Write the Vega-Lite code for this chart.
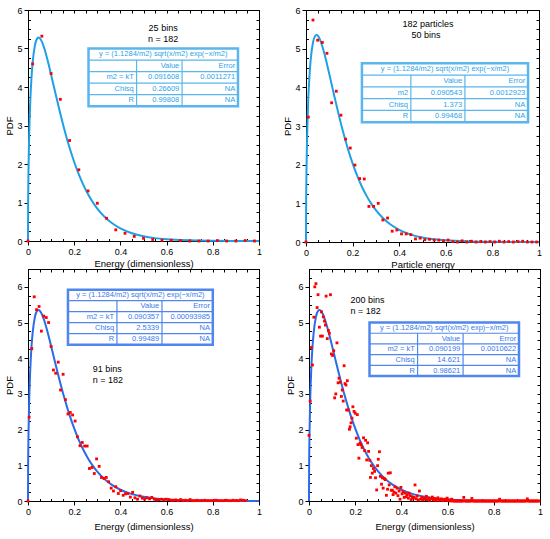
{
  "$schema": "https://vega.github.io/schema/vega-lite/v6.json",
  "background": "white",
  "padding": {"left": 4, "top": 5, "right": 5, "bottom": 5},
  "config": {
    "view": {"stroke": "#000", "strokeWidth": 1},
    "axis": {
      "grid": false,
      "labelFont": "Liberation Sans",
      "titleFont": "Liberation Sans",
      "labelFontSize": 9,
      "titleFontSize": 9.5,
      "titleFontWeight": "normal",
      "labelColor": "#000",
      "titleColor": "#000",
      "tickColor": "#000",
      "domainColor": "#000",
      "labelFlush": false,
      "labelOverlap": false
    },
    "text": {"font": "Liberation Sans"}
  },
  "datasets": {
    "p1": [
      {"x": 0, "y": 0}, {"x": 0.02, "y": 4.6}, {"x": 0.06, "y": 5.32}, {"x": 0.1, "y": 4.35},
      {"x": 0.14, "y": 3.68}, {"x": 0.18, "y": 2.61}, {"x": 0.22, "y": 1.85}, {"x": 0.26, "y": 1.3},
      {"x": 0.3, "y": 0.98}, {"x": 0.34, "y": 0.59}, {"x": 0.38, "y": 0.29}, {"x": 0.42, "y": 0.2},
      {"x": 0.46, "y": 0.12}, {"x": 0.5, "y": 0.07}, {"x": 0.54, "y": 0.04}, {"x": 0.58, "y": 0.02},
      {"x": 0.62, "y": 0.02}, {"x": 0.66, "y": 0.01}, {"x": 0.7, "y": 0}, {"x": 0.74, "y": 0},
      {"x": 0.78, "y": 0}, {"x": 0.82, "y": 0.01}, {"x": 0.86, "y": 0}, {"x": 0.9, "y": 0},
      {"x": 0.94, "y": 0.01}, {"x": 0.98, "y": 0}
    ],
    "p2": [
      {"x": 0, "y": 0}, {"x": 0.01, "y": 3.23}, {"x": 0.03, "y": 5.74}, {"x": 0.05, "y": 5.22},
      {"x": 0.07, "y": 5.16}, {"x": 0.09, "y": 4.88}, {"x": 0.11, "y": 3.6}, {"x": 0.13, "y": 3.9},
      {"x": 0.15, "y": 3.28}, {"x": 0.17, "y": 2.66}, {"x": 0.19, "y": 2.43}, {"x": 0.21, "y": 1.99},
      {"x": 0.23, "y": 1.64}, {"x": 0.25, "y": 1.63}, {"x": 0.27, "y": 0.92}, {"x": 0.29, "y": 0.92},
      {"x": 0.31, "y": 1.0}, {"x": 0.33, "y": 0.57}, {"x": 0.35, "y": 0.62}, {"x": 0.37, "y": 0.28},
      {"x": 0.39, "y": 0.31}, {"x": 0.41, "y": 0.21}, {"x": 0.43, "y": 0.21}, {"x": 0.45, "y": 0.19},
      {"x": 0.47, "y": 0.08}, {"x": 0.49, "y": 0.1}, {"x": 0.51, "y": 0.06}, {"x": 0.53, "y": 0.07},
      {"x": 0.55, "y": 0.05}, {"x": 0.57, "y": 0.05}, {"x": 0.59, "y": 0.03}, {"x": 0.61, "y": 0.05},
      {"x": 0.63, "y": 0.01}, {"x": 0.65, "y": 0}, {"x": 0.67, "y": 0.03}, {"x": 0.69, "y": 0},
      {"x": 0.71, "y": 0.02}, {"x": 0.73, "y": 0}, {"x": 0.75, "y": 0.01}, {"x": 0.77, "y": 0},
      {"x": 0.79, "y": 0.01}, {"x": 0.81, "y": 0}, {"x": 0.83, "y": 0.02}, {"x": 0.85, "y": 0},
      {"x": 0.87, "y": 0.01}, {"x": 0.89, "y": 0}, {"x": 0.91, "y": 0.01}, {"x": 0.93, "y": 0.02},
      {"x": 0.95, "y": 0}, {"x": 0.97, "y": 0}, {"x": 0.99, "y": 0}
    ],
    "p3": [
      {"x": 0, "y": 0}, {"x": 0.005, "y": 2.35}, {"x": 0.0165, "y": 4.27}, {"x": 0.027, "y": 5.72},
      {"x": 0.037, "y": 5.36}, {"x": 0.048, "y": 5.45}, {"x": 0.058, "y": 4.76}, {"x": 0.068, "y": 5.18},
      {"x": 0.079, "y": 5.14}, {"x": 0.089, "y": 5.0}, {"x": 0.1, "y": 4.33}, {"x": 0.11, "y": 3.67},
      {"x": 0.12, "y": 3.58}, {"x": 0.131, "y": 3.89}, {"x": 0.141, "y": 3.11}, {"x": 0.152, "y": 3.55},
      {"x": 0.162, "y": 2.84}, {"x": 0.173, "y": 2.44}, {"x": 0.183, "y": 2.48}, {"x": 0.193, "y": 2.41},
      {"x": 0.204, "y": 2.24}, {"x": 0.214, "y": 1.8}, {"x": 0.225, "y": 1.55}, {"x": 0.235, "y": 1.64},
      {"x": 0.245, "y": 1.54}, {"x": 0.256, "y": 1.54}, {"x": 0.266, "y": 0.91}, {"x": 0.277, "y": 0.94},
      {"x": 0.287, "y": 0.77}, {"x": 0.297, "y": 1.18}, {"x": 0.308, "y": 0.97}, {"x": 0.318, "y": 0.66},
      {"x": 0.329, "y": 0.63}, {"x": 0.339, "y": 0.66}, {"x": 0.349, "y": 0.54}, {"x": 0.36, "y": 0.36},
      {"x": 0.37, "y": 0.28}, {"x": 0.38, "y": 0.4}, {"x": 0.391, "y": 0.21}, {"x": 0.401, "y": 0.29},
      {"x": 0.412, "y": 0.16}, {"x": 0.422, "y": 0.2}, {"x": 0.432, "y": 0.21}, {"x": 0.443, "y": 0.11},
      {"x": 0.453, "y": 0.24}, {"x": 0.463, "y": 0.09}, {"x": 0.474, "y": 0.05}, {"x": 0.484, "y": 0.14},
      {"x": 0.495, "y": 0.08}, {"x": 0.505, "y": 0.05}, {"x": 0.515, "y": 0.09}, {"x": 0.526, "y": 0.06},
      {"x": 0.536, "y": 0.1}, {"x": 0.547, "y": 0.05}, {"x": 0.557, "y": 0.03}, {"x": 0.567, "y": 0.04},
      {"x": 0.578, "y": 0.05}, {"x": 0.588, "y": 0.03}, {"x": 0.598, "y": 0.05}, {"x": 0.609, "y": 0.04},
      {"x": 0.619, "y": 0.02}, {"x": 0.63, "y": 0.02}, {"x": 0.64, "y": 0.03}, {"x": 0.65, "y": 0.01},
      {"x": 0.661, "y": 0.04}, {"x": 0.671, "y": 0.01}, {"x": 0.682, "y": 0.02}, {"x": 0.692, "y": 0.01},
      {"x": 0.702, "y": 0.04}, {"x": 0.713, "y": 0.01}, {"x": 0.723, "y": 0.01}, {"x": 0.733, "y": 0.02},
      {"x": 0.744, "y": 0.01}, {"x": 0.754, "y": 0.01}, {"x": 0.765, "y": 0.02}, {"x": 0.775, "y": 0.01},
      {"x": 0.785, "y": 0.01}, {"x": 0.796, "y": 0.01}, {"x": 0.806, "y": 0.02}, {"x": 0.816, "y": 0.02},
      {"x": 0.827, "y": 0.01}, {"x": 0.837, "y": 0.01}, {"x": 0.848, "y": 0.01}, {"x": 0.858, "y": 0.02},
      {"x": 0.868, "y": 0.01}, {"x": 0.879, "y": 0.01}, {"x": 0.889, "y": 0.02}, {"x": 0.9, "y": 0.01},
      {"x": 0.91, "y": 0.01}, {"x": 0.92, "y": 0.03}, {"x": 0.931, "y": 0.02}, {"x": 0.941, "y": 0.01}
    ],
    "p4": [
      {"x": 0, "y": 1.84}, {"x": 0.005, "y": 2.8}, {"x": 0.01, "y": 4.3}, {"x": 0.015, "y": 3.81},
      {"x": 0.021, "y": 5.15}, {"x": 0.025, "y": 6.0}, {"x": 0.03, "y": 6.09}, {"x": 0.035, "y": 5.42},
      {"x": 0.039, "y": 5.78}, {"x": 0.045, "y": 4.87}, {"x": 0.05, "y": 4.62}, {"x": 0.054, "y": 5.3},
      {"x": 0.058, "y": 4.62}, {"x": 0.062, "y": 5.16}, {"x": 0.067, "y": 5.04}, {"x": 0.071, "y": 4.93},
      {"x": 0.074, "y": 5.74}, {"x": 0.079, "y": 4.55}, {"x": 0.084, "y": 4.78}, {"x": 0.088, "y": 4.7},
      {"x": 0.093, "y": 5.78}, {"x": 0.097, "y": 4.12}, {"x": 0.102, "y": 4.08}, {"x": 0.107, "y": 4.21},
      {"x": 0.111, "y": 2.89}, {"x": 0.116, "y": 3.0}, {"x": 0.121, "y": 4.43}, {"x": 0.126, "y": 3.31},
      {"x": 0.13, "y": 3.44}, {"x": 0.135, "y": 3.33}, {"x": 0.14, "y": 2.93}, {"x": 0.144, "y": 3.11},
      {"x": 0.148, "y": 2.8}, {"x": 0.152, "y": 3.79}, {"x": 0.156, "y": 3.29}, {"x": 0.16, "y": 3.25},
      {"x": 0.163, "y": 2.55}, {"x": 0.166, "y": 3.37}, {"x": 0.17, "y": 2.55}, {"x": 0.175, "y": 2.01},
      {"x": 0.178, "y": 2.08}, {"x": 0.182, "y": 2.19}, {"x": 0.186, "y": 2.32}, {"x": 0.19, "y": 2.64},
      {"x": 0.195, "y": 2.51}, {"x": 0.2, "y": 2.46}, {"x": 0.205, "y": 1.76}, {"x": 0.209, "y": 2.42},
      {"x": 0.212, "y": 1.58}, {"x": 0.216, "y": 1.2}, {"x": 0.221, "y": 1.62}, {"x": 0.225, "y": 1.58},
      {"x": 0.23, "y": 1.5}, {"x": 0.236, "y": 1.77}, {"x": 0.241, "y": 1.41}, {"x": 0.245, "y": 1.7},
      {"x": 0.25, "y": 1.15}, {"x": 0.254, "y": 1.63}, {"x": 0.258, "y": 1.39}, {"x": 0.263, "y": 1.14},
      {"x": 0.266, "y": 0.66}, {"x": 0.27, "y": 0.99}, {"x": 0.274, "y": 0.78}, {"x": 0.279, "y": 0.91},
      {"x": 0.284, "y": 0.83}, {"x": 0.288, "y": 0.65}, {"x": 0.293, "y": 0.31}, {"x": 0.297, "y": 0.99},
      {"x": 0.3, "y": 1.17}, {"x": 0.305, "y": 1.38}, {"x": 0.309, "y": 0.69}, {"x": 0.314, "y": 0.47},
      {"x": 0.318, "y": 0.65}, {"x": 0.321, "y": 0.36}, {"x": 0.326, "y": 0.63}, {"x": 0.33, "y": 0.6},
      {"x": 0.335, "y": 0.16}, {"x": 0.34, "y": 0.33}, {"x": 0.343, "y": 0.78}, {"x": 0.347, "y": 0.45},
      {"x": 0.352, "y": 0.79}, {"x": 0.356, "y": 0.3}, {"x": 0.361, "y": 0.3}, {"x": 0.364, "y": 0.18},
      {"x": 0.368, "y": 0.25}, {"x": 0.372, "y": 0.4}, {"x": 0.376, "y": 0.22}, {"x": 0.381, "y": 0.36},
      {"x": 0.385, "y": 0.15}, {"x": 0.39, "y": 0.28}, {"x": 0.394, "y": 0.05}, {"x": 0.398, "y": 0.38},
      {"x": 0.403, "y": 0.2}, {"x": 0.407, "y": 0.26}, {"x": 0.412, "y": 0.1}, {"x": 0.416, "y": 0.22},
      {"x": 0.421, "y": 0.12}, {"x": 0.425, "y": 0.18}, {"x": 0.43, "y": 0.08}, {"x": 0.433, "y": 0.22},
      {"x": 0.438, "y": 0.15}, {"x": 0.442, "y": 0.04}, {"x": 0.447, "y": 0.12}, {"x": 0.451, "y": 0.08},
      {"x": 0.455, "y": 0.1}, {"x": 0.459, "y": 0.45}, {"x": 0.464, "y": 0.06}, {"x": 0.468, "y": 0.14},
      {"x": 0.473, "y": 0.03}, {"x": 0.478, "y": 0.28}, {"x": 0.483, "y": 0.05}, {"x": 0.488, "y": 0.1},
      {"x": 0.493, "y": 0.03}, {"x": 0.497, "y": 0.08}, {"x": 0.502, "y": 0.05}, {"x": 0.508, "y": 0.13},
      {"x": 0.512, "y": 0.04}, {"x": 0.517, "y": 0.08}, {"x": 0.522, "y": 0.02}, {"x": 0.527, "y": 0.06},
      {"x": 0.534, "y": 0.11}, {"x": 0.538, "y": 0.03}, {"x": 0.543, "y": 0.07}, {"x": 0.548, "y": 0.02},
      {"x": 0.553, "y": 0.05}, {"x": 0.558, "y": 0.09}, {"x": 0.563, "y": 0.02}, {"x": 0.568, "y": 0.04},
      {"x": 0.573, "y": 0.06}, {"x": 0.578, "y": 0.01}, {"x": 0.583, "y": 0.03}, {"x": 0.588, "y": 0.05},
      {"x": 0.593, "y": 0.02}, {"x": 0.598, "y": 0.08}, {"x": 0.603, "y": 0.01}, {"x": 0.608, "y": 0.03},
      {"x": 0.613, "y": 0}, {"x": 0.618, "y": 0.05}, {"x": 0.625, "y": 0}, {"x": 0.63, "y": 0},
      {"x": 0.635, "y": 0}, {"x": 0.64, "y": 0}, {"x": 0.645, "y": 0}, {"x": 0.65, "y": 0},
      {"x": 0.655, "y": 0}, {"x": 0.66, "y": 0}, {"x": 0.665, "y": 0}, {"x": 0.67, "y": 0.1},
      {"x": 0.675, "y": 0}, {"x": 0.68, "y": 0}, {"x": 0.685, "y": 0}, {"x": 0.69, "y": 0},
      {"x": 0.695, "y": 0}, {"x": 0.7, "y": 0}, {"x": 0.705, "y": 0.07}, {"x": 0.71, "y": 0},
      {"x": 0.715, "y": 0}, {"x": 0.72, "y": 0}, {"x": 0.725, "y": 0}, {"x": 0.73, "y": 0},
      {"x": 0.735, "y": 0}, {"x": 0.74, "y": 0}, {"x": 0.745, "y": 0}, {"x": 0.75, "y": 0},
      {"x": 0.755, "y": 0}, {"x": 0.76, "y": 0}, {"x": 0.765, "y": 0}, {"x": 0.77, "y": 0},
      {"x": 0.775, "y": 0}, {"x": 0.78, "y": 0}, {"x": 0.785, "y": 0}, {"x": 0.79, "y": 0},
      {"x": 0.795, "y": 0}, {"x": 0.8, "y": 0}, {"x": 0.805, "y": 0}, {"x": 0.81, "y": 0},
      {"x": 0.815, "y": 0}, {"x": 0.82, "y": 0}, {"x": 0.825, "y": 0.05}, {"x": 0.83, "y": 0},
      {"x": 0.835, "y": 0}, {"x": 0.84, "y": 0}, {"x": 0.845, "y": 0}, {"x": 0.85, "y": 0},
      {"x": 0.855, "y": 0}, {"x": 0.86, "y": 0}, {"x": 0.865, "y": 0}, {"x": 0.87, "y": 0},
      {"x": 0.875, "y": 0}, {"x": 0.88, "y": 0}, {"x": 0.885, "y": 0}, {"x": 0.89, "y": 0},
      {"x": 0.895, "y": 0}, {"x": 0.9, "y": 0}, {"x": 0.905, "y": 0}, {"x": 0.91, "y": 0},
      {"x": 0.915, "y": 0}, {"x": 0.92, "y": 0}, {"x": 0.925, "y": 0}, {"x": 0.93, "y": 0},
      {"x": 0.935, "y": 0}, {"x": 0.94, "y": 0}, {"x": 0.945, "y": 0.06}, {"x": 0.95, "y": 0},
      {"x": 0.955, "y": 0}, {"x": 0.96, "y": 0}, {"x": 0.965, "y": 0}, {"x": 0.97, "y": 0},
      {"x": 0.975, "y": 0}, {"x": 0.98, "y": 0}, {"x": 0.985, "y": 0}, {"x": 0.99, "y": 0},
      {"x": 0.995, "y": 0}
    ],
    "fitA": [
      {"x": 0, "y": 0}, {"x": 0.0005, "y": 0.905}, {"x": 0.001, "y": 1.273}, {"x": 0.002, "y": 1.781},
      {"x": 0.005, "y": 2.725}, {"x": 0.01, "y": 3.649}, {"x": 0.015, "y": 4.232}, {"x": 0.02, "y": 4.627},
      {"x": 0.03, "y": 5.081}, {"x": 0.04, "y": 5.26}, {"x": 0.046, "y": 5.283}, {"x": 0.05, "y": 5.273},
      {"x": 0.06, "y": 5.179}, {"x": 0.07, "y": 5.015}, {"x": 0.08, "y": 4.807}, {"x": 0.09, "y": 4.571},
      {"x": 0.1, "y": 4.32}, {"x": 0.12, "y": 3.804}, {"x": 0.14, "y": 3.303}, {"x": 0.16, "y": 2.839},
      {"x": 0.18, "y": 2.42}, {"x": 0.2, "y": 2.051}, {"x": 0.22, "y": 1.729}, {"x": 0.24, "y": 1.452},
      {"x": 0.26, "y": 1.215}, {"x": 0.28, "y": 1.013}, {"x": 0.3, "y": 0.843}, {"x": 0.33, "y": 0.637},
      {"x": 0.36, "y": 0.48}, {"x": 0.4, "y": 0.327}, {"x": 0.45, "y": 0.201}, {"x": 0.5, "y": 0.1225},
      {"x": 0.55, "y": 0.0745}, {"x": 0.6, "y": 0.0451}, {"x": 0.7, "y": 0.0164}, {"x": 0.8, "y": 0.0059},
      {"x": 0.9, "y": 0.0021}, {"x": 1, "y": 0.0007}
    ],
    "fitB": [
      {"x": 0, "y": 0}, {"x": 0.0005, "y": 0.923}, {"x": 0.001, "y": 1.298}, {"x": 0.002, "y": 1.816},
      {"x": 0.005, "y": 2.778}, {"x": 0.01, "y": 3.717}, {"x": 0.015, "y": 4.307}, {"x": 0.02, "y": 4.706},
      {"x": 0.03, "y": 5.16}, {"x": 0.04, "y": 5.334}, {"x": 0.045, "y": 5.353}, {"x": 0.05, "y": 5.339},
      {"x": 0.06, "y": 5.236}, {"x": 0.07, "y": 5.064}, {"x": 0.08, "y": 4.846}, {"x": 0.09, "y": 4.602},
      {"x": 0.1, "y": 4.343}, {"x": 0.12, "y": 3.813}, {"x": 0.14, "y": 3.301}, {"x": 0.16, "y": 2.829},
      {"x": 0.18, "y": 2.405}, {"x": 0.2, "y": 2.032}, {"x": 0.22, "y": 1.708}, {"x": 0.24, "y": 1.43},
      {"x": 0.26, "y": 1.193}, {"x": 0.28, "y": 0.992}, {"x": 0.3, "y": 0.823}, {"x": 0.33, "y": 0.62},
      {"x": 0.36, "y": 0.465}, {"x": 0.4, "y": 0.315}, {"x": 0.45, "y": 0.192}, {"x": 0.5, "y": 0.1163},
      {"x": 0.55, "y": 0.0702}, {"x": 0.6, "y": 0.0422}, {"x": 0.7, "y": 0.0151}, {"x": 0.8, "y": 0.0053},
      {"x": 0.9, "y": 0.0019}, {"x": 1, "y": 0.0007}
    ],
    "box": [
      {"p": 1, "x": 0.262, "x2": 0.909, "y": 3.5, "y2": 5.0},
      {"p": 2, "x": 0.24, "x2": 0.953, "y": 3.1, "y2": 4.62},
      {"p": 3, "x": 0.173, "x2": 0.8, "y": 4.38, "y2": 5.92},
      {"p": 4, "x": 0.262, "x2": 0.909, "y": 3.5, "y2": 5.0}
    ],
    "sep": [
      {"p": 1, "x": 0.262, "x2": 0.909, "y": 4.7, "y2": 4.7},
      {"p": 1, "x": 0.262, "x2": 0.909, "y": 4.4, "y2": 4.4},
      {"p": 1, "x": 0.262, "x2": 0.909, "y": 4.1, "y2": 4.1},
      {"p": 1, "x": 0.262, "x2": 0.909, "y": 3.8, "y2": 3.8},
      {"p": 1, "x": 0.47, "x2": 0.47, "y": 3.5, "y2": 4.7},
      {"p": 1, "x": 0.667, "x2": 0.667, "y": 3.5, "y2": 4.7},
      {"p": 2, "x": 0.24, "x2": 0.953, "y": 4.316, "y2": 4.316},
      {"p": 2, "x": 0.24, "x2": 0.953, "y": 4.012, "y2": 4.012},
      {"p": 2, "x": 0.24, "x2": 0.953, "y": 3.708, "y2": 3.708},
      {"p": 2, "x": 0.24, "x2": 0.953, "y": 3.404, "y2": 3.404},
      {"p": 2, "x": 0.45, "x2": 0.45, "y": 3.1, "y2": 4.316},
      {"p": 2, "x": 0.682, "x2": 0.682, "y": 3.1, "y2": 4.316},
      {"p": 3, "x": 0.173, "x2": 0.8, "y": 5.612, "y2": 5.612},
      {"p": 3, "x": 0.173, "x2": 0.8, "y": 5.304, "y2": 5.304},
      {"p": 3, "x": 0.173, "x2": 0.8, "y": 4.996, "y2": 4.996},
      {"p": 3, "x": 0.173, "x2": 0.8, "y": 4.688, "y2": 4.688},
      {"p": 3, "x": 0.385, "x2": 0.385, "y": 4.38, "y2": 5.612},
      {"p": 3, "x": 0.58, "x2": 0.58, "y": 4.38, "y2": 5.612},
      {"p": 4, "x": 0.262, "x2": 0.909, "y": 4.7, "y2": 4.7},
      {"p": 4, "x": 0.262, "x2": 0.909, "y": 4.4, "y2": 4.4},
      {"p": 4, "x": 0.262, "x2": 0.909, "y": 4.1, "y2": 4.1},
      {"p": 4, "x": 0.262, "x2": 0.909, "y": 3.8, "y2": 3.8},
      {"p": 4, "x": 0.47, "x2": 0.47, "y": 3.5, "y2": 4.7},
      {"p": 4, "x": 0.667, "x2": 0.667, "y": 3.5, "y2": 4.7}
    ],
    "ttl": [
      {"p": 1, "x": 0.5855, "y": 4.85, "t": "y = (1.1284/m2) sqrt(x/m2) exp(−x/m2)"},
      {"p": 2, "x": 0.5965, "y": 4.468, "t": "y = (1.1284/m2) sqrt(x/m2) exp(−x/m2)"},
      {"p": 3, "x": 0.4865, "y": 5.766, "t": "y = (1.1284/m2) sqrt(x/m2) exp(−x/m2)"},
      {"p": 4, "x": 0.5855, "y": 4.85, "t": "y = (1.1284/m2) sqrt(x/m2) exp)−x/m2)"}
    ],
    "cells": [
      {"p": 1, "x": 0.655, "y": 4.55, "t": "Value"}, {"p": 1, "x": 0.897, "y": 4.55, "t": "Error"},
      {"p": 1, "x": 0.458, "y": 4.25, "t": "m2 = kT"}, {"p": 1, "x": 0.655, "y": 4.25, "t": "0.091608"}, {"p": 1, "x": 0.897, "y": 4.25, "t": "0.0011271"},
      {"p": 1, "x": 0.458, "y": 3.95, "t": "Chisq"}, {"p": 1, "x": 0.655, "y": 3.95, "t": "0.26609"}, {"p": 1, "x": 0.897, "y": 3.95, "t": "NA"},
      {"p": 1, "x": 0.458, "y": 3.65, "t": "R"}, {"p": 1, "x": 0.655, "y": 3.65, "t": "0.99808"}, {"p": 1, "x": 0.897, "y": 3.65, "t": "NA"},
      {"p": 2, "x": 0.67, "y": 4.164, "t": "Value"}, {"p": 2, "x": 0.941, "y": 4.164, "t": "Error"},
      {"p": 2, "x": 0.438, "y": 3.86, "t": "m2"}, {"p": 2, "x": 0.67, "y": 3.86, "t": "0.090543"}, {"p": 2, "x": 0.941, "y": 3.86, "t": "0.0012923"},
      {"p": 2, "x": 0.438, "y": 3.556, "t": "Chisq"}, {"p": 2, "x": 0.67, "y": 3.556, "t": "1.373"}, {"p": 2, "x": 0.941, "y": 3.556, "t": "NA"},
      {"p": 2, "x": 0.438, "y": 3.252, "t": "R"}, {"p": 2, "x": 0.67, "y": 3.252, "t": "0.99468"}, {"p": 2, "x": 0.941, "y": 3.252, "t": "NA"},
      {"p": 3, "x": 0.568, "y": 5.458, "t": "Value"}, {"p": 3, "x": 0.788, "y": 5.458, "t": "Error"},
      {"p": 3, "x": 0.373, "y": 5.15, "t": "m2 = kT"}, {"p": 3, "x": 0.568, "y": 5.15, "t": "0.090357"}, {"p": 3, "x": 0.788, "y": 5.15, "t": "0.00093985"},
      {"p": 3, "x": 0.373, "y": 4.842, "t": "Chisq"}, {"p": 3, "x": 0.568, "y": 4.842, "t": "2.5339"}, {"p": 3, "x": 0.788, "y": 4.842, "t": "NA"},
      {"p": 3, "x": 0.373, "y": 4.534, "t": "R"}, {"p": 3, "x": 0.568, "y": 4.534, "t": "0.99489"}, {"p": 3, "x": 0.788, "y": 4.534, "t": "NA"},
      {"p": 4, "x": 0.655, "y": 4.55, "t": "Value"}, {"p": 4, "x": 0.897, "y": 4.55, "t": "Error"},
      {"p": 4, "x": 0.458, "y": 4.25, "t": "m2 = kT"}, {"p": 4, "x": 0.655, "y": 4.25, "t": "0.090199"}, {"p": 4, "x": 0.897, "y": 4.25, "t": "0.0010622"},
      {"p": 4, "x": 0.458, "y": 3.95, "t": "Chisq"}, {"p": 4, "x": 0.655, "y": 3.95, "t": "14.621"}, {"p": 4, "x": 0.897, "y": 3.95, "t": "NA"},
      {"p": 4, "x": 0.458, "y": 3.65, "t": "R"}, {"p": 4, "x": 0.655, "y": 3.65, "t": "0.98621"}, {"p": 4, "x": 0.897, "y": 3.65, "t": "NA"}
    ],
    "notes": [
      {"p": 1, "x": 0.585, "y": 5.53, "t": "25 bins"},
      {"p": 1, "x": 0.585, "y": 5.25, "t": "n = 182"},
      {"p": 2, "x": 0.524, "y": 5.63, "t": "182 particles"},
      {"p": 2, "x": 0.515, "y": 5.35, "t": "50 bins"},
      {"p": 3, "x": 0.28, "y": 3.69, "t": "91 bins"},
      {"p": 3, "x": 0.28, "y": 3.39, "t": "n = 182"},
      {"p": 4, "x": 0.18, "y": 5.62, "t": "200 bins"},
      {"p": 4, "x": 0.18, "y": 5.32, "t": "n = 182"}
    ]
  },
  "vconcat": [
    {
      "spacing": 18,
      "hconcat": [
        {
          "width": 231,
          "height": 231,
          "resolve": {"axis": {"x": "independent", "y": "independent"}},
          "layer": [
            {
              "data": {"name": "fitA"},
              "mark": {"type": "line", "color": "#1ea0e6", "strokeWidth": 2, "interpolate": "monotone"},
              "encoding": {
                "x": {"field": "x", "type": "quantitative", "scale": {"domain": [0, 1]},
                  "axis": {"orient": "top", "title": null, "labels": false, "tickSize": -3,
                    "values": [0, 0.05, 0.1, 0.15, 0.2, 0.25, 0.3, 0.35, 0.4, 0.45, 0.5, 0.55, 0.6, 0.65, 0.7, 0.75, 0.8, 0.85, 0.9, 0.95, 1]}},
                "y": {"field": "y", "type": "quantitative", "scale": {"domain": [0, 6]},
                  "axis": {"orient": "right", "title": null, "labels": false, "tickSize": -3,
                    "values": [0, 0.25, 0.5, 0.75, 1, 1.25, 1.5, 1.75, 2, 2.25, 2.5, 2.75, 3, 3.25, 3.5, 3.75, 4, 4.25, 4.5, 4.75, 5, 5.25, 5.5, 5.75, 6]}}
              }
            },
            {
              "data": {"name": "p1"},
              "mark": {"type": "square", "color": "#ff0000", "size": 8, "opacity": 1},
              "encoding": {
                "x": {"field": "x", "type": "quantitative", "scale": {"domain": [0, 1]},
                  "axis": {"orient": "bottom", "title": "Energy (dimensionless)", "format": "~g",
                    "values": [0, 0.05, 0.1, 0.15, 0.2, 0.25, 0.3, 0.35, 0.4, 0.45, 0.5, 0.55, 0.6, 0.65, 0.7, 0.75, 0.8, 0.85, 0.9, 0.95, 1],
                    "labelExpr": "abs(datum.value*5-round(datum.value*5))<1e-6 ? datum.label : ''",
                    "tickSize": {"condition": {"test": "abs(datum.value*5-round(datum.value*5))<1e-6", "value": 4}, "value": -2.5},
                    "labelPadding": 2, "titlePadding": 2}},
                "y": {"field": "y", "type": "quantitative", "scale": {"domain": [0, 6]},
                  "axis": {"orient": "left", "title": "PDF", "format": "~g",
                    "values": [0, 0.25, 0.5, 0.75, 1, 1.25, 1.5, 1.75, 2, 2.25, 2.5, 2.75, 3, 3.25, 3.5, 3.75, 4, 4.25, 4.5, 4.75, 5, 5.25, 5.5, 5.75, 6],
                    "labelExpr": "datum.value % 1 == 0 ? datum.label : ''",
                    "tickSize": {"condition": {"test": "datum.value % 1 == 0", "value": 4}, "value": -2.5},
                    "labelPadding": 2, "titlePadding": 2}}
              }
            },
            {
              "data": {"name": "box"},
              "transform": [{"filter": "datum.p == 1"}],
              "mark": {"type": "rect", "fill": "white", "stroke": "#5ab6ec", "strokeWidth": 2.5},
              "encoding": {
                "x": {"field": "x", "type": "quantitative", "axis": null}, "x2": {"field": "x2"},
                "y": {"field": "y", "type": "quantitative", "axis": null}, "y2": {"field": "y2"}
              }
            },
            {
              "data": {"name": "sep"},
              "transform": [{"filter": "datum.p == 1"}],
              "mark": {"type": "rule", "color": "#5ab6ec", "strokeWidth": 1.2},
              "encoding": {
                "x": {"field": "x", "type": "quantitative", "axis": null}, "x2": {"field": "x2"},
                "y": {"field": "y", "type": "quantitative", "axis": null}, "y2": {"field": "y2"}
              }
            },
            {
              "data": {"name": "cells"},
              "transform": [{"filter": "datum.p == 1"}],
              "mark": {"type": "text", "align": "right", "baseline": "middle", "fontSize": 7.5, "color": "#2ea3e6"},
              "encoding": {
                "x": {"field": "x", "type": "quantitative", "axis": null},
                "y": {"field": "y", "type": "quantitative", "axis": null},
                "text": {"field": "t"}
              }
            },
            {
              "data": {"name": "ttl"},
              "transform": [{"filter": "datum.p == 1"}],
              "mark": {"type": "text", "align": "center", "baseline": "middle", "fontSize": 7.5, "color": "#2ea3e6"},
              "encoding": {
                "x": {"field": "x", "type": "quantitative", "axis": null},
                "y": {"field": "y", "type": "quantitative", "axis": null},
                "text": {"field": "t"}
              }
            },
            {
              "data": {"name": "notes"},
              "transform": [{"filter": "datum.p == 1"}],
              "mark": {"type": "text", "align": "center", "baseline": "middle", "fontSize": 9, "color": "#000"},
              "encoding": {
                "x": {"field": "x", "type": "quantitative", "axis": null},
                "y": {"field": "y", "type": "quantitative", "axis": null},
                "text": {"field": "t"}
              }
            }
          ]
        },
        {
          "width": 233,
          "height": 232,
          "resolve": {"axis": {"x": "independent", "y": "independent"}},
          "layer": [
            {
              "data": {"name": "fitB"},
              "mark": {"type": "line", "color": "#1ea0e6", "strokeWidth": 2, "interpolate": "monotone"},
              "encoding": {
                "x": {"field": "x", "type": "quantitative", "scale": {"domain": [0, 1]},
                  "axis": {"orient": "top", "title": null, "labels": false, "tickSize": -3,
                    "values": [0, 0.05, 0.1, 0.15, 0.2, 0.25, 0.3, 0.35, 0.4, 0.45, 0.5, 0.55, 0.6, 0.65, 0.7, 0.75, 0.8, 0.85, 0.9, 0.95, 1]}},
                "y": {"field": "y", "type": "quantitative", "scale": {"domain": [0, 6]},
                  "axis": {"orient": "right", "title": null, "labels": false, "tickSize": -3,
                    "values": [0, 0.25, 0.5, 0.75, 1, 1.25, 1.5, 1.75, 2, 2.25, 2.5, 2.75, 3, 3.25, 3.5, 3.75, 4, 4.25, 4.5, 4.75, 5, 5.25, 5.5, 5.75, 6]}}
              }
            },
            {
              "data": {"name": "p2"},
              "mark": {"type": "square", "color": "#ff0000", "size": 8, "opacity": 1},
              "encoding": {
                "x": {"field": "x", "type": "quantitative", "scale": {"domain": [0, 1]},
                  "axis": {"orient": "bottom", "title": "Particle energy", "format": "~g",
                    "values": [0, 0.05, 0.1, 0.15, 0.2, 0.25, 0.3, 0.35, 0.4, 0.45, 0.5, 0.55, 0.6, 0.65, 0.7, 0.75, 0.8, 0.85, 0.9, 0.95, 1],
                    "labelExpr": "abs(datum.value*5-round(datum.value*5))<1e-6 ? datum.label : ''",
                    "tickSize": {"condition": {"test": "abs(datum.value*5-round(datum.value*5))<1e-6", "value": 4}, "value": -2.5},
                    "labelPadding": 2, "titlePadding": 2}},
                "y": {"field": "y", "type": "quantitative", "scale": {"domain": [0, 6]},
                  "axis": {"orient": "left", "title": "PDF", "format": "~g",
                    "values": [0, 0.25, 0.5, 0.75, 1, 1.25, 1.5, 1.75, 2, 2.25, 2.5, 2.75, 3, 3.25, 3.5, 3.75, 4, 4.25, 4.5, 4.75, 5, 5.25, 5.5, 5.75, 6],
                    "labelExpr": "datum.value % 1 == 0 ? datum.label : ''",
                    "tickSize": {"condition": {"test": "datum.value % 1 == 0", "value": 4}, "value": -2.5},
                    "labelPadding": 2, "titlePadding": 2}}
              }
            },
            {
              "data": {"name": "box"},
              "transform": [{"filter": "datum.p == 2"}],
              "mark": {"type": "rect", "fill": "white", "stroke": "#5ab6ec", "strokeWidth": 2.5},
              "encoding": {
                "x": {"field": "x", "type": "quantitative", "axis": null}, "x2": {"field": "x2"},
                "y": {"field": "y", "type": "quantitative", "axis": null}, "y2": {"field": "y2"}
              }
            },
            {
              "data": {"name": "sep"},
              "transform": [{"filter": "datum.p == 2"}],
              "mark": {"type": "rule", "color": "#5ab6ec", "strokeWidth": 1.2},
              "encoding": {
                "x": {"field": "x", "type": "quantitative", "axis": null}, "x2": {"field": "x2"},
                "y": {"field": "y", "type": "quantitative", "axis": null}, "y2": {"field": "y2"}
              }
            },
            {
              "data": {"name": "cells"},
              "transform": [{"filter": "datum.p == 2"}],
              "mark": {"type": "text", "align": "right", "baseline": "middle", "fontSize": 7.5, "color": "#2ea3e6"},
              "encoding": {
                "x": {"field": "x", "type": "quantitative", "axis": null},
                "y": {"field": "y", "type": "quantitative", "axis": null},
                "text": {"field": "t"}
              }
            },
            {
              "data": {"name": "ttl"},
              "transform": [{"filter": "datum.p == 2"}],
              "mark": {"type": "text", "align": "center", "baseline": "middle", "fontSize": 7.5, "color": "#2ea3e6"},
              "encoding": {
                "x": {"field": "x", "type": "quantitative", "axis": null},
                "y": {"field": "y", "type": "quantitative", "axis": null},
                "text": {"field": "t"}
              }
            },
            {
              "data": {"name": "notes"},
              "transform": [{"filter": "datum.p == 2"}],
              "mark": {"type": "text", "align": "center", "baseline": "middle", "fontSize": 9, "color": "#000"},
              "encoding": {
                "x": {"field": "x", "type": "quantitative", "axis": null},
                "y": {"field": "y", "type": "quantitative", "axis": null},
                "text": {"field": "t"}
              }
            }
          ]
        }
      ]
    },
    {
      "spacing": 21,
      "hconcat": [
        {
          "width": 231,
          "height": 232,
          "resolve": {"axis": {"x": "independent", "y": "independent"}},
          "layer": [
            {
              "data": {"name": "fitB"},
              "mark": {"type": "line", "color": "#2b6ae8", "strokeWidth": 2, "interpolate": "monotone"},
              "encoding": {
                "x": {"field": "x", "type": "quantitative", "scale": {"domain": [0, 1]},
                  "axis": {"orient": "top", "title": null, "labels": false, "tickSize": -3,
                    "values": [0, 0.05, 0.1, 0.15, 0.2, 0.25, 0.3, 0.35, 0.4, 0.45, 0.5, 0.55, 0.6, 0.65, 0.7, 0.75, 0.8, 0.85, 0.9, 0.95, 1]}},
                "y": {"field": "y", "type": "quantitative", "scale": {"domain": [0, 6.25]},
                  "axis": {"orient": "right", "title": null, "labels": false, "tickSize": -3,
                    "values": [0, 0.25, 0.5, 0.75, 1, 1.25, 1.5, 1.75, 2, 2.25, 2.5, 2.75, 3, 3.25, 3.5, 3.75, 4, 4.25, 4.5, 4.75, 5, 5.25, 5.5, 5.75, 6, 6.25]}}
              }
            },
            {
              "data": {"name": "p3"},
              "mark": {"type": "square", "color": "#ff0000", "size": 8, "opacity": 1},
              "encoding": {
                "x": {"field": "x", "type": "quantitative", "scale": {"domain": [0, 1]},
                  "axis": {"orient": "bottom", "title": "Energy (dimensionless)", "format": "~g",
                    "values": [0, 0.05, 0.1, 0.15, 0.2, 0.25, 0.3, 0.35, 0.4, 0.45, 0.5, 0.55, 0.6, 0.65, 0.7, 0.75, 0.8, 0.85, 0.9, 0.95, 1],
                    "labelExpr": "abs(datum.value*5-round(datum.value*5))<1e-6 ? datum.label : ''",
                    "tickSize": {"condition": {"test": "abs(datum.value*5-round(datum.value*5))<1e-6", "value": 4}, "value": -2.5},
                    "labelPadding": 2, "titlePadding": 5}},
                "y": {"field": "y", "type": "quantitative", "scale": {"domain": [0, 6.25]},
                  "axis": {"orient": "left", "title": "PDF", "format": "~g",
                    "values": [0, 0.25, 0.5, 0.75, 1, 1.25, 1.5, 1.75, 2, 2.25, 2.5, 2.75, 3, 3.25, 3.5, 3.75, 4, 4.25, 4.5, 4.75, 5, 5.25, 5.5, 5.75, 6, 6.25],
                    "labelExpr": "datum.value % 1 == 0 ? datum.label : ''",
                    "tickSize": {"condition": {"test": "datum.value % 1 == 0", "value": 4}, "value": -2.5},
                    "labelPadding": 2, "titlePadding": 2}}
              }
            },
            {
              "data": {"name": "box"},
              "transform": [{"filter": "datum.p == 3"}],
              "mark": {"type": "rect", "fill": "white", "stroke": "#4f86f0", "strokeWidth": 2.5},
              "encoding": {
                "x": {"field": "x", "type": "quantitative", "axis": null}, "x2": {"field": "x2"},
                "y": {"field": "y", "type": "quantitative", "axis": null}, "y2": {"field": "y2"}
              }
            },
            {
              "data": {"name": "sep"},
              "transform": [{"filter": "datum.p == 3"}],
              "mark": {"type": "rule", "color": "#4f86f0", "strokeWidth": 1.2},
              "encoding": {
                "x": {"field": "x", "type": "quantitative", "axis": null}, "x2": {"field": "x2"},
                "y": {"field": "y", "type": "quantitative", "axis": null}, "y2": {"field": "y2"}
              }
            },
            {
              "data": {"name": "cells"},
              "transform": [{"filter": "datum.p == 3"}],
              "mark": {"type": "text", "align": "right", "baseline": "middle", "fontSize": 7.5, "color": "#3b78ee"},
              "encoding": {
                "x": {"field": "x", "type": "quantitative", "axis": null},
                "y": {"field": "y", "type": "quantitative", "axis": null},
                "text": {"field": "t"}
              }
            },
            {
              "data": {"name": "ttl"},
              "transform": [{"filter": "datum.p == 3"}],
              "mark": {"type": "text", "align": "center", "baseline": "middle", "fontSize": 7.5, "color": "#3b78ee"},
              "encoding": {
                "x": {"field": "x", "type": "quantitative", "axis": null},
                "y": {"field": "y", "type": "quantitative", "axis": null},
                "text": {"field": "t"}
              }
            },
            {
              "data": {"name": "notes"},
              "transform": [{"filter": "datum.p == 3"}],
              "mark": {"type": "text", "align": "left", "baseline": "middle", "fontSize": 9, "color": "#000"},
              "encoding": {
                "x": {"field": "x", "type": "quantitative", "axis": null},
                "y": {"field": "y", "type": "quantitative", "axis": null},
                "text": {"field": "t"}
              }
            }
          ]
        },
        {
          "width": 231,
          "height": 232,
          "resolve": {"axis": {"x": "independent", "y": "independent"}},
          "layer": [
            {
              "data": {"name": "fitB"},
              "mark": {"type": "line", "color": "#2b6ae8", "strokeWidth": 2, "interpolate": "monotone"},
              "encoding": {
                "x": {"field": "x", "type": "quantitative", "scale": {"domain": [0, 1]},
                  "axis": {"orient": "top", "title": null, "labels": false, "tickSize": -3,
                    "values": [0, 0.05, 0.1, 0.15, 0.2, 0.25, 0.3, 0.35, 0.4, 0.45, 0.5, 0.55, 0.6, 0.65, 0.7, 0.75, 0.8, 0.85, 0.9, 0.95, 1]}},
                "y": {"field": "y", "type": "quantitative", "scale": {"domain": [0, 6.25]},
                  "axis": {"orient": "right", "title": null, "labels": false, "tickSize": -3,
                    "values": [0, 0.25, 0.5, 0.75, 1, 1.25, 1.5, 1.75, 2, 2.25, 2.5, 2.75, 3, 3.25, 3.5, 3.75, 4, 4.25, 4.5, 4.75, 5, 5.25, 5.5, 5.75, 6, 6.25]}}
              }
            },
            {
              "data": {"name": "p4"},
              "mark": {"type": "square", "color": "#ff0000", "size": 8, "opacity": 1},
              "encoding": {
                "x": {"field": "x", "type": "quantitative", "scale": {"domain": [0, 1]},
                  "axis": {"orient": "bottom", "title": "Energy (dimensionless)", "format": "~g",
                    "values": [0, 0.05, 0.1, 0.15, 0.2, 0.25, 0.3, 0.35, 0.4, 0.45, 0.5, 0.55, 0.6, 0.65, 0.7, 0.75, 0.8, 0.85, 0.9, 0.95, 1],
                    "labelExpr": "abs(datum.value*5-round(datum.value*5))<1e-6 ? datum.label : ''",
                    "tickSize": {"condition": {"test": "abs(datum.value*5-round(datum.value*5))<1e-6", "value": 4}, "value": -2.5},
                    "labelPadding": 2, "titlePadding": 5}},
                "y": {"field": "y", "type": "quantitative", "scale": {"domain": [0, 6.25]},
                  "axis": {"orient": "left", "title": "PDF", "format": "~g",
                    "values": [0, 0.25, 0.5, 0.75, 1, 1.25, 1.5, 1.75, 2, 2.25, 2.5, 2.75, 3, 3.25, 3.5, 3.75, 4, 4.25, 4.5, 4.75, 5, 5.25, 5.5, 5.75, 6, 6.25],
                    "labelExpr": "datum.value % 1 == 0 ? datum.label : ''",
                    "tickSize": {"condition": {"test": "datum.value % 1 == 0", "value": 4}, "value": -2.5},
                    "labelPadding": 2, "titlePadding": 2}}
              }
            },
            {
              "data": {"name": "box"},
              "transform": [{"filter": "datum.p == 4"}],
              "mark": {"type": "rect", "fill": "white", "stroke": "#4f86f0", "strokeWidth": 2.5},
              "encoding": {
                "x": {"field": "x", "type": "quantitative", "axis": null}, "x2": {"field": "x2"},
                "y": {"field": "y", "type": "quantitative", "axis": null}, "y2": {"field": "y2"}
              }
            },
            {
              "data": {"name": "sep"},
              "transform": [{"filter": "datum.p == 4"}],
              "mark": {"type": "rule", "color": "#4f86f0", "strokeWidth": 1.2},
              "encoding": {
                "x": {"field": "x", "type": "quantitative", "axis": null}, "x2": {"field": "x2"},
                "y": {"field": "y", "type": "quantitative", "axis": null}, "y2": {"field": "y2"}
              }
            },
            {
              "data": {"name": "cells"},
              "transform": [{"filter": "datum.p == 4"}],
              "mark": {"type": "text", "align": "right", "baseline": "middle", "fontSize": 7.5, "color": "#3b78ee"},
              "encoding": {
                "x": {"field": "x", "type": "quantitative", "axis": null},
                "y": {"field": "y", "type": "quantitative", "axis": null},
                "text": {"field": "t"}
              }
            },
            {
              "data": {"name": "ttl"},
              "transform": [{"filter": "datum.p == 4"}],
              "mark": {"type": "text", "align": "center", "baseline": "middle", "fontSize": 7.5, "color": "#3b78ee"},
              "encoding": {
                "x": {"field": "x", "type": "quantitative", "axis": null},
                "y": {"field": "y", "type": "quantitative", "axis": null},
                "text": {"field": "t"}
              }
            },
            {
              "data": {"name": "notes"},
              "transform": [{"filter": "datum.p == 4"}],
              "mark": {"type": "text", "align": "left", "baseline": "middle", "fontSize": 9, "color": "#000"},
              "encoding": {
                "x": {"field": "x", "type": "quantitative", "axis": null},
                "y": {"field": "y", "type": "quantitative", "axis": null},
                "text": {"field": "t"}
              }
            }
          ]
        }
      ]
    }
  ],
  "spacing": -1
}
